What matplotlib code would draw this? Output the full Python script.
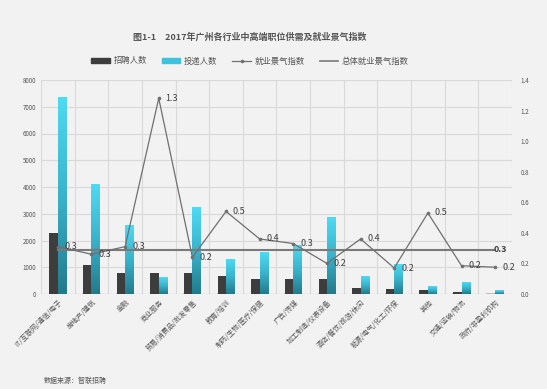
import matplotlib.pyplot as plt
import numpy as np
from matplotlib.lines import Line2D
from matplotlib.patches import Patch
from matplotlib.colors import LinearSegmentedColormap

plt.rcParams['font.family'] = ['Noto Sans CJK SC', 'DejaVu Sans']

categories = ['IT/互联网/通信/电子', '房地产/建筑', '金融', '商业服务', '贸易/消费品/批发零售',
              '教育/培训', '制药/生物/医疗/保健', '广告/传媒', '加工制造/仪表设备',
              '酒店/餐饮/旅游/休闲', '能源/电气/化工/环保', '其他', '交通/运输/物流',
              '政府/非盈利机构']
hires = [2270, 1085, 775, 775, 775, 685, 560, 560, 560, 236, 175, 138, 75, 10]
applicants = [7340, 4100, 2555, 625, 3230, 1295, 1570, 1795, 2855, 670, 1110, 290, 420, 140]
index = [0.31, 0.26, 0.31, 1.28, 0.24, 0.54, 0.36, 0.33, 0.20, 0.36, 0.17, 0.53, 0.185, 0.175]
total_index = 0.29

BG = '#f2f2f2'
DARK = '#3d3d3d'
TEXT = '#555555'

fig = plt.figure(figsize=(5.47, 3.89), dpi=100, facecolor=BG)
ax = fig.add_axes([41 / 547, 1 - 294 / 389, 471 / 547, 214 / 389])
ax.set_facecolor(BG)

x = np.arange(len(categories))
w = 0.25

# floor strip under bars
ax.bar(x, [40] * len(x), width=2 * w + 0.04, color='#bdbdbd', zorder=2)
ax.bar(x - w / 2, hires, width=w, color=DARK, zorder=3)
cyan = ax.bar(x + w / 2, applicants, width=w, color='none', zorder=3)

# vertical gradient on the applicant bars
grad = np.linspace(0, 1, 256).reshape(-1, 1)
cmap = LinearSegmentedColormap.from_list('cy', ['#227a8b', '#3ab3cc', '#4fdaf3'])
for b in cyan:
    x0, y0, bw, bh = b.get_x(), b.get_y(), b.get_width(), b.get_height()
    ax.imshow(grad, cmap=cmap, origin='lower', aspect='auto',
              extent=[x0, x0 + bw, y0, y0 + bh], zorder=3)
ax.set_xlim(-0.5, len(categories) - 0.5)
ax.set_ylim(0, 8000)

ax.set_yticks(np.arange(0, 8001, 1000))
ax.set_xticks(np.arange(-0.5, len(categories)))
ax.grid(True, color='#d9d9d9', linewidth=0.8, zorder=0)
ax.set_axisbelow(True)
ax.set_xticklabels([])
ax.tick_params(axis='both', length=0, labelsize=4.5, labelcolor=TEXT)
for s in ax.spines.values():
    s.set_visible(False)
ax.axhline(0, color='#c8c8c8', linewidth=0.8, zorder=1)

for i, c in enumerate(categories):
    ax.text(i + 0.02, -170, c, rotation=45, ha='right', va='top', rotation_mode='anchor',
            fontsize=5, color=TEXT)

ax2 = ax.twinx()
ax2.set_ylim(0, 1.4)
ax2.set_yticks(np.arange(0, 1.41, 0.2))
ax2.set_yticklabels([f'{v:.1f}' for v in np.arange(0, 1.41, 0.2)])
ax2.tick_params(axis='y', length=0, labelsize=4.5, labelcolor=TEXT, pad=6)
for s in ax2.spines.values():
    s.set_visible(False)

ax2.plot(x, index, color='#707070', linewidth=0.9, marker='o', markersize=1.6, zorder=5)
for i, v in enumerate(index):
    ax2.annotate(f'{v:.1f}', (i, v), xytext=(5, 0), textcoords='offset points',
                 fontsize=6.5, color='#404040', va='center', ha='left', zorder=6)

ax2.plot([0, len(categories) - 1], [total_index, total_index], color='#7a7a7a', linewidth=1.5, zorder=4)
ax2.annotate(f'{total_index:.1f}', (len(categories) - 1, total_index), xytext=(-1, 0),
             textcoords='offset points', fontsize=6.5, fontweight='bold', color='#404040',
             va='center', ha='left', zorder=6)

fig.text(250 / 547, 1 - 37 / 389, '图1-1　2017年广州各行业中高端职位供需及就业景气指数',
         ha='center', va='center', fontsize=6.5, fontweight='bold', color=TEXT)

handles = [Patch(color=DARK), Patch(color='#3ec3dc'),
           Line2D([], [], color='#707070', lw=0.9, marker='o', markersize=1.6),
           Line2D([], [], color='#7a7a7a', lw=1.2)]
labels = ['招聘人数', '投递人数', '就业景气指数', '总体就业景气指数']
fig.legend(handles, labels, loc='center', bbox_to_anchor=(250 / 547, 1 - 61 / 389), ncol=4,
           frameon=False, fontsize=6, handlelength=2.2, handleheight=0.5, columnspacing=1.8,
           handletextpad=0.45, labelcolor=TEXT)

fig.text(44 / 547, 1 - 381 / 389, '数据来源：智联招聘', fontsize=5, color=TEXT, va='center')

fig.savefig('out.png', dpi=100, facecolor=BG)
